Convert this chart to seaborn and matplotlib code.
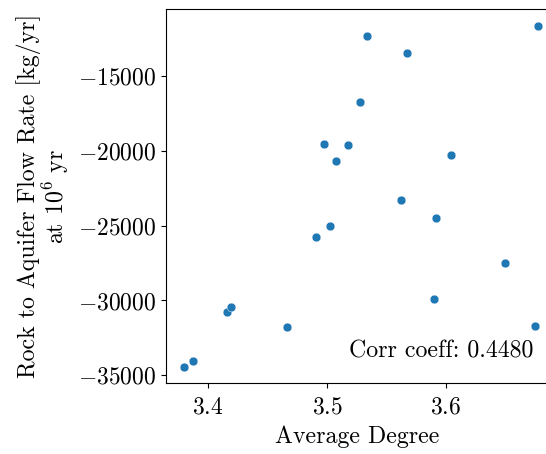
import matplotlib
matplotlib.use("Agg")
import matplotlib.pyplot as plt
import seaborn as sns
import pandas as pd

avg_degree = [3.6773, 3.5338, 3.5674, 3.5276, 3.4971, 3.5174, 3.5073, 3.6040,
              3.5620, 3.5918, 3.4907, 3.5028, 3.6499, 3.4161, 3.4195, 3.5901,
              3.4667, 3.6745, 3.3797, 3.3873]
flow_rate = [-11658, -12346, -13443, -16758, -19565, -19592, -20682, -20280,
             -23288, -24512, -25761, -25026, -27519, -30774, -30440, -29905,
             -31797, -31690, -34450, -34050]
corr_text = "Corr coeff: 0.4480"

df = pd.DataFrame({"x": avg_degree, "y": flow_rate})

plt.rcParams["font.family"] = ["cmr10", "DejaVu Serif"]
plt.rcParams["mathtext.fontset"] = "cm"
plt.rcParams["axes.formatter.use_mathtext"] = True
plt.rcParams["axes.unicode_minus"] = True

fig = plt.figure(figsize=(5.46, 4.54), dpi=100)
ax = fig.add_axes([0.304, 0.1564, 0.699, 0.8231])
sns.scatterplot(data=df, x="x", y="y", ax=ax, color="#1f77b4", s=40, edgecolor="white", linewidth=0.3)

ax.set_xlim(3.3647, 3.6854)
ax.set_ylim(-35515, -10541)
ax.set_xticks([3.4, 3.5, 3.6])
ax.set_yticks([-35000, -30000, -25000, -20000, -15000])
ax.set_xticklabels(["$3.4$", "$3.5$", "$3.6$"])
ax.set_yticklabels(["$-35000$", "$-30000$", "$-25000$", "$-20000$", "$-15000$"])
ax.tick_params(labelsize=17)
ax.tick_params(axis="x", pad=6)
ax.set_xlabel("Average Degree", fontsize=17.2, labelpad=5)
ax.set_ylabel("Rock to Aquifer Flow Rate [kg/yr]\nat $10^6$ yr", fontsize=17.2, linespacing=1.0, labelpad=5)
ax.text(0.963, 0.055, corr_text, transform=ax.transAxes, ha="right", va="bottom", fontsize=17.2)

fig.savefig("out.png", dpi=100)
